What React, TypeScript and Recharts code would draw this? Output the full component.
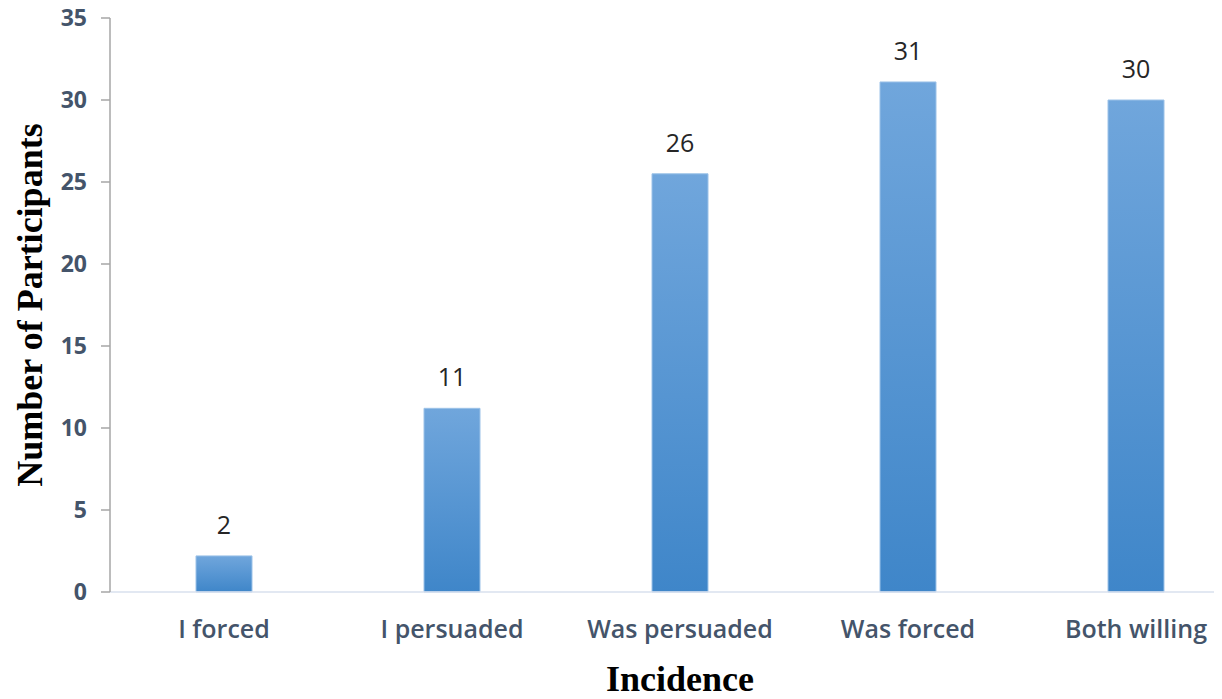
import React from 'react';
import { BarChart, Bar, XAxis, YAxis, LabelList, Label } from 'recharts';

const categories = ['I forced', 'I persuaded', 'Was persuaded', 'Was forced', 'Both willing'];
const counts = [2.2, 11.2, 25.5, 31.1, 30];
const countLabels = ['2', '11', '26', '31', '30'];
const yTicks = [0, 5, 10, 15, 20, 25, 30, 35];

const data = categories.map((name, i) => ({ name, count: counts[i], label: countLabels[i] }));

const TICK_COLOR = '#44546A';

export default function App() {
  return (
    <div style={{ margin: -8, width: 1222, height: 699, overflow: 'hidden', background: '#fff' }}>
      <BarChart
        width={1262}
        height={699}
        data={data}
        margin={{ top: 18, right: 12, left: 0, bottom: 0 }}
        barCategoryGap={0}
      >
        <defs>
          <linearGradient id="barFill" x1="0" y1="0" x2="0" y2="1">
            <stop offset="0%" stopColor="#70a6dc" />
            <stop offset="100%" stopColor="#3f86c9" />
          </linearGradient>
        </defs>
        <XAxis
          dataKey="name"
          height={107}
          tickLine={false}
          tickSize={0}
          tickMargin={28}
          axisLine={{ stroke: '#d9e1ee', strokeWidth: 1.5 }}
          tick={{ fill: TICK_COLOR, fontFamily: 'Open Sans', fontWeight: 600, fontSize: 25 }}
          interval={0}
        >
          <Label
            content={({ viewBox }: any) => (
              <text
                x={viewBox.x + viewBox.width / 2}
                y={691}
                textAnchor="middle"
                style={{ fill: '#000', fontFamily: 'Liberation Serif', fontWeight: 700, fontSize: 36 }}
              >
                Incidence
              </text>
            )}
          />
        </XAxis>
        <YAxis
          width={110}
          domain={[0, 35]}
          ticks={yTicks}
          interval={0}
          tickSize={9}
          tickMargin={14}
          axisLine={{ stroke: '#a6a6a6', strokeWidth: 1.5 }}
          tickLine={{ stroke: '#a6a6a6', strokeWidth: 1.5 }}
          tick={{ fill: TICK_COLOR, fontFamily: 'Open Sans', fontWeight: 700, fontSize: 23 }}
        >
          <Label
            content={({ viewBox }: any) => {
              const cy = viewBox.y + viewBox.height / 2;
              return (
                <text
                  x={30}
                  y={cy}
                  transform={`rotate(-90, 30, ${cy})`}
                  textAnchor="middle"
                  dominantBaseline="central"
                  style={{ fill: '#000', fontFamily: 'Liberation Serif', fontWeight: 700, fontSize: 36 }}
                >
                  Number of Participants
                </text>
              );
            }}
          />
        </YAxis>
        <Bar dataKey="count" barSize={56} fill="url(#barFill)" stroke="#9cc2e8" strokeWidth={1} isAnimationActive={false}>
          <LabelList
            dataKey="label"
            position="top"
            offset={22}
            style={{ fill: '#262626', fontFamily: 'Open Sans', fontSize: 25 }}
          />
        </Bar>
      </BarChart>
    </div>
  );
}
